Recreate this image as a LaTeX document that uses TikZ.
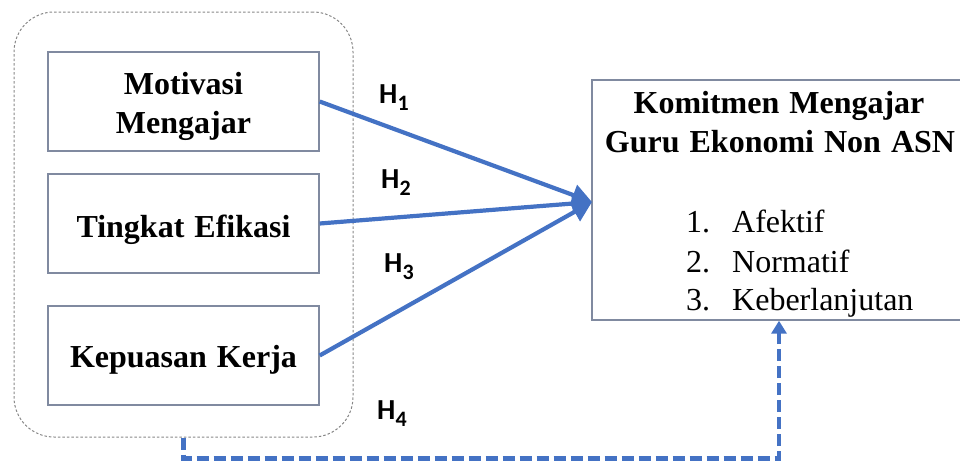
\documentclass[tikz,border=0pt]{standalone}
\usepackage{fontspec}
\setmainfont{Liberation Serif}
\newfontfamily\hypfont{Carlito}
\usetikzlibrary{arrows.meta}

\definecolor{linkblue}{RGB}{68,114,196}
\definecolor{boxline}{RGB}{128,138,160}
\definecolor{groupline}{RGB}{135,135,135}

\tikzset{
  varbox/.style={draw=boxline, line width=1.4pt, minimum width=271pt,
    minimum height=99pt, inner sep=0pt},
  boxtext/.style={anchor=base, inner sep=0pt,
    font=\fontsize{32}{39}\selectfont\bfseries},
  listtext/.style={anchor=base west, inner sep=0pt,
    font=\fontsize{32}{39}\selectfont},
  hyp/.style={anchor=base west, inner sep=0pt,
    font=\hypfont\bfseries\fontsize{29}{29}\selectfont},
  link/.style={draw=linkblue, line width=4.2pt,
    -{Triangle[length=20pt,width=21pt]}},
  duallink/.style={draw=linkblue, line width=4.4pt, dash pattern=on 12pt off 5pt,
    -{Triangle[length=13pt,width=15pt]}},
}
\newcommand{\hsub}[1]{H\raisebox{-7pt}{\fontsize{22}{22}\selectfont #1}}

\begin{document}
\begin{tikzpicture}[x=1pt,y=-1pt]
\useasboundingbox (0,0) rectangle (960,461);

% grouping frame around the three predictors
\node[draw=groupline, line width=1pt, dash pattern=on 2.5pt off 2pt,
      rounded corners=40pt, minimum width=339pt, minimum height=425pt,
      inner sep=0pt] (grp) at (183.5,224.5) {};

% predictor boxes
\node[varbox] (mot) at (183.5,101.5) {};
\node[varbox] (efi) at (183.5,223.5) {};
\node[varbox] (kep) at (183.5,355.5) {};

\node[boxtext] (motA) at (183.5,94) {Motivasi};
\node[boxtext] (motB) at (183.5,133) {Mengajar};
\node[boxtext] (efiA) at (183.5,237) {Tingkat\hspace{2pt} Efikasi};
\node[boxtext] (kepA) at (183.5,367) {Kepuasan\hspace{2pt} Kerja};

% outcome box (runs past the right edge)
\node[draw=boxline, line width=1.4pt, minimum width=374pt, minimum height=240pt,
      inner sep=0pt] (kom) at (779,200) {};

\node[boxtext] (komA) at (779,113) {Komitmen\hspace{2pt} Mengajar};
\node[boxtext] (komB) at (780,152) {Guru\hspace{2pt} Ekonomi\hspace{2pt} Non\hspace{2pt} ASN};

\node[listtext] (n1) at (686,232) {1.};
\node[listtext] (n2) at (686,272) {2.};
\node[listtext] (n3) at (686,310) {3.};
\node[listtext] (l1) at (732,232) {Afektif};
\node[listtext] (l2) at (732,272) {Normatif};
\node[listtext] (l3) at (732,310) {Keberlanjutan};

% hypothesised paths
\coordinate (target) at (592,202);
\draw[link] (mot.east) -- (target);
\draw[link] (efi.east) -- (target);
\draw[link] (kep.east) -- (target);

\draw[duallink] (grp.south) -- ++(0,21) -| (kom.south);

% hypothesis labels
\node[hyp] (h1) at (379,103) {\hsub{1}};
\node[hyp] (h2) at (381,188) {\hsub{2}};
\node[hyp] (h3) at (384,272) {\hsub{3}};
\node[hyp] (h4) at (377,419) {\hsub{4}};
\end{tikzpicture}
\end{document}
